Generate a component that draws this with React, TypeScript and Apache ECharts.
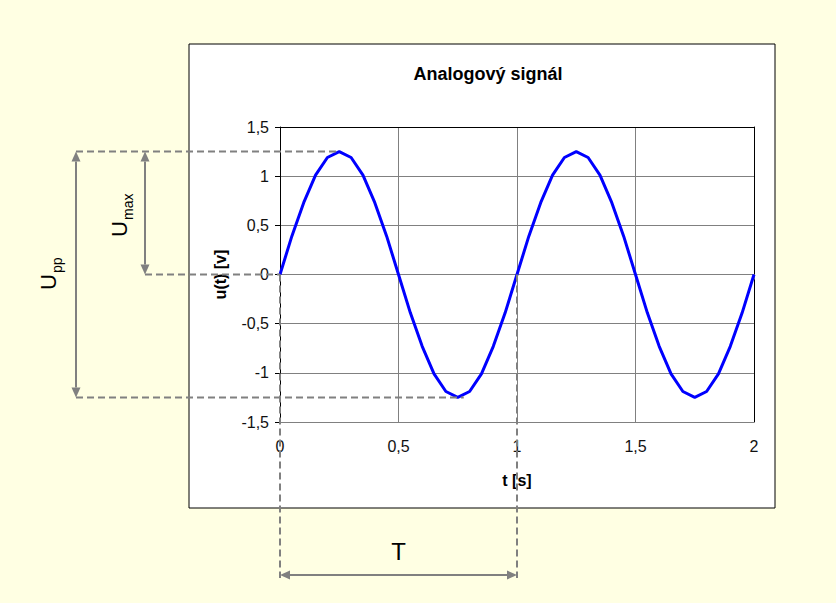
import React, { useEffect, useRef } from "react";
import * as echarts from "echarts";

const TITLE = "Analogový signál";
const X_NAME = "t [s]";
const Y_NAME = "u(t) [v]";

const tValues = [
  0, 0.05, 0.1, 0.15, 0.2, 0.25, 0.3, 0.35, 0.4, 0.45, 0.5, 0.55, 0.6, 0.65, 0.7, 0.75, 0.8, 0.85, 0.9, 0.95,
  1, 1.05, 1.1, 1.15, 1.2, 1.25, 1.3, 1.35, 1.4, 1.45, 1.5, 1.55, 1.6, 1.65, 1.7, 1.75, 1.8, 1.85, 1.9, 1.95, 2,
];
const uValues = [
  0, 0.39, 0.73, 1.01, 1.19, 1.25, 1.19, 1.01, 0.73, 0.39, 0, -0.39, -0.73, -1.01, -1.19, -1.25, -1.19, -1.01, -0.73, -0.39,
  0, 0.39, 0.73, 1.01, 1.19, 1.25, 1.19, 1.01, 0.73, 0.39, 0, -0.39, -0.73, -1.01, -1.19, -1.25, -1.19, -1.01, -0.73, -0.39,
  0,
];

// annotation values
const U_MAX = 1.25;
const T_PEAK = 0.25;
const T_TROUGH = 0.75;
const PERIOD = 1;

const fmt = (v: number) => String(v).replace(".", ",");

export default function App() {
  const ref = useRef<HTMLDivElement>(null);
  useEffect(() => {
    if (!ref.current) return;
    const chart = echarts.init(ref.current, null, { renderer: "svg" });
    const font = "Arial, 'Liberation Sans', sans-serif";
    const hidden = {
      axisLabel: { show: false },
      axisTick: { show: false },
      splitLine: { show: false },
    };
    chart.setOption({
      animation: false,
      backgroundColor: "#FFFFE3",
      textStyle: { fontFamily: font },
      title: {
        text: TITLE,
        left: 483,
        top: 60,
        textAlign: "center",
        textStyle: { fontSize: 18, fontWeight: "bold", color: "#000", fontFamily: font },
      },
      grid: { left: 280, top: 127, width: 474, height: 295 },
      xAxis: [
        {
          type: "value",
          min: 0,
          max: 2,
          interval: 0.5,
          position: "bottom",
          name: X_NAME,
          nameLocation: "middle",
          nameGap: 50,
          nameTextStyle: { fontSize: 16, fontWeight: "bold", color: "#000", fontFamily: font },
          axisLine: { show: true, lineStyle: { color: "#808080", width: 1 } },
          axisTick: { show: true, length: 5, lineStyle: { color: "#808080" } },
          axisLabel: { fontSize: 16, color: "#111", margin: 16, formatter: fmt },
          splitLine: { show: true, lineStyle: { color: "#808080", width: 1 } },
        },
        {
          type: "value",
          min: 0,
          max: 2,
          position: "top",
          axisLine: { show: true, onZero: false, lineStyle: { color: "#000", width: 1 } },
          ...hidden,
        },
      ],
      yAxis: [
        {
          type: "value",
          min: -1.5,
          max: 1.5,
          interval: 0.5,
          position: "left",
          name: Y_NAME,
          nameLocation: "middle",
          nameRotate: 90,
          nameGap: 52,
          nameTextStyle: { fontSize: 16, fontWeight: "bold", color: "#000", fontFamily: font },
          axisLine: { show: true, onZero: false, lineStyle: { color: "#000", width: 1 } },
          axisTick: { show: true, length: 5, lineStyle: { color: "#000" } },
          axisLabel: { fontSize: 16, color: "#111", margin: 11, formatter: fmt },
          splitLine: { show: true, lineStyle: { color: "#808080", width: 1 } },
        },
        {
          type: "value",
          min: -1.5,
          max: 1.5,
          position: "right",
          axisLine: { show: true, onZero: false, lineStyle: { color: "#000", width: 1 } },
          ...hidden,
        },
      ],
      series: [
        {
          type: "line",
          data: tValues.map((t, i) => [t, uValues[i]]),
          showSymbol: false,
          smooth: false,
          lineStyle: { color: "#0000FF", width: 3 },
          z: 5,
        },
      ],
    });

    const P = (t: number, v: number) => chart.convertToPixel({ seriesIndex: 0 }, [t, v]) as number[];
    const [xPeak, yPeak] = P(T_PEAK, U_MAX);
    const [x0, y0] = P(0, 0);
    const [xTr, yTr] = P(T_TROUGH, -U_MAX);
    const [x1] = P(PERIOD, 0);

    const gray = "#808080";
    const dashStyle = { stroke: gray, lineWidth: 2, lineDash: [7, 4] };
    const solid = { stroke: gray, lineWidth: 2 };
    const xUpp = 76;
    const xUmax = 145;
    const yT = 575;
    const yBottomEnd = 578;
    const hl = 10;
    const hw = 4.5;

    const dl = (x1_: number, y1_: number, x2_: number, y2_: number) => ({
      type: "line",
      z: 10,
      shape: { x1: x1_, y1: y1_, x2: x2_, y2: y2_ },
      style: dashStyle,
    });
    const sl = (x1_: number, y1_: number, x2_: number, y2_: number) => ({
      type: "line",
      z: 10,
      shape: { x1: x1_, y1: y1_, x2: x2_, y2: y2_ },
      style: solid,
    });
    const tri = (pts: number[][]) => ({
      type: "polygon",
      z: 10,
      shape: { points: pts },
      style: { fill: gray, stroke: null },
    });
    const vArrow = (x: number, ya: number, yb: number) => [
      sl(x, ya + hl, x, yb - hl),
      tri([[x, ya], [x - hw, ya + hl], [x + hw, ya + hl]]),
      tri([[x, yb], [x - hw, yb - hl], [x + hw, yb - hl]]),
    ];
    const hArrow = (y: number, xa: number, xb: number) => [
      sl(xa + hl, y, xb - hl, y),
      tri([[xa, y], [xa + hl, y - hw], [xa + hl, y + hw]]),
      tri([[xb, y], [xb - hl, y - hw], [xb - hl, y + hw]]),
    ];
    const subLabel = (x: number, y: number, main: string, sub: string, size: number) => ({
      type: "group",
      x,
      y,
      rotation: Math.PI / 2,
      z: 10,
      children: [
        {
          type: "text",
          x: 0,
          y: 0,
          style: { text: main, fontSize: size, fontFamily: font, fill: "#000", align: "left", verticalAlign: "middle" },
        },
        {
          type: "text",
          x: 17,
          y: 9,
          style: { text: sub, fontSize: 14, fontFamily: font, fill: "#000", align: "left", verticalAlign: "middle" },
        },
      ],
    });

    chart.setOption({
      graphic: [
        {
          type: "rect",
          z: -10,
          shape: { x: 189, y: 44, width: 586, height: 464 },
          style: { fill: "#fff", stroke: "#000", lineWidth: 1 },
        },
        dl(xUpp, yPeak, xPeak, yPeak),
        dl(xUmax, y0, x0, y0),
        dl(xUpp, yTr, xTr + 6, yTr),
        dl(x0, y0, x0, yBottomEnd),
        dl(x1, y0, x1, yBottomEnd),
        ...vArrow(xUpp, yPeak, yTr),
        ...vArrow(xUmax, yPeak, y0),
        ...hArrow(yT, x0, x1),
        subLabel(48, 290, "U", "pp", 22),
        subLabel(119, 237, "U", "max", 22),
        {
          type: "text",
          z: 10,
          x: (x0 + x1) / 2,
          y: 551,
          style: { text: "T", fontSize: 24, fontFamily: font, fill: "#000", align: "center", verticalAlign: "middle" },
        },
      ],
    });
    return () => chart.dispose();
  }, []);
  return <div ref={ref} style={{ position: "absolute", left: 0, top: 0, width: 836, height: 603 }} />;
}
